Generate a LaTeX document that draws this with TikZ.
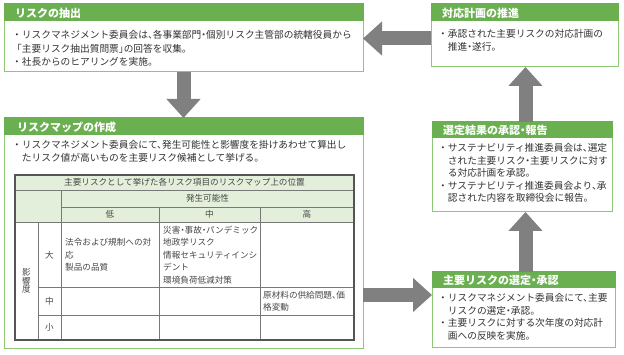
\documentclass[tikz,border=0pt]{standalone}
\usepackage{fontspec}
\setmainfont{Noto Sans CJK JP}[RawFeature=+halt]
\newfontfamily\fwfont{Noto Sans CJK JP}
\usetikzlibrary{calc,arrows.meta}
\definecolor{hdr}{RGB}{106,176,80}
\definecolor{bord}{RGB}{140,200,118}
\definecolor{agray}{RGB}{128,128,128}
\definecolor{thead}{RGB}{227,239,218}
\definecolor{tline}{RGB}{120,120,120}
\definecolor{tborder}{RGB}{85,85,85}
\definecolor{txt}{RGB}{50,50,50}
\definecolor{ttxt}{RGB}{70,70,70}
\newcommand\bodyf{\fontsize{9.7}{12}\selectfont}
\newcommand\hdrf{\fontsize{11}{13}\selectfont\bfseries}
\newcommand\tblf{\fontsize{8.6}{11}\selectfont}
\newcommand\bl{{\fwfont ・}}
\newcommand\ci{\hspace*{1em}}
\begin{document}
\begin{tikzpicture}[x=1pt,y=-1pt,
  box/.style={draw=bord, line width=1pt, fill=white, anchor=north west, inner sep=0pt, outer sep=0pt},
  hdrfill/.style={fill=hdr},
  bt/.style={anchor=west, inner sep=0pt, font=\bodyf, text=txt, text height=8pt, text depth=0.6pt},
  ht/.style={anchor=west, inner sep=0pt, font=\hdrf, text=white, text height=9pt, text depth=0.7pt},
  tt/.style={anchor=west, inner sep=0pt, font=\tblf, text=ttxt, text height=7.1pt, text depth=0.5pt},
  tc/.style={tt, anchor=center},
  bigarrow/.style={draw=agray, line width=14pt, -{Triangle[width=33pt,length=19pt]}},
  tgrid/.style={draw=tline, line width=0.9pt}]
\useasboundingbox (0,0) rectangle (624,355);
\fill[white] (0,0) rectangle (624,355);

% boxes
\node[box, minimum width=359pt, minimum height=68pt] (b1) at (4,4) {};
\fill[hdrfill] ($(b1.north west)+(-0.5,-0.5)$) rectangle ($(b1.north east)+(0.5,17)$);
\node[box, minimum width=187pt, minimum height=63pt] (b2) at (431,4) {};
\fill[hdrfill] ($(b2.north west)+(-0.5,-0.5)$) rectangle ($(b2.north east)+(0.5,17)$);
\node[box, minimum width=359pt, minimum height=231pt] (b3) at (4,118) {};
\fill[hdrfill] ($(b3.north west)+(-0.5,-0.5)$) rectangle ($(b3.north east)+(0.5,17)$);
\node[box, minimum width=180pt, minimum height=90pt] (b5) at (432,122) {};
\fill[hdrfill] ($(b5.north west)+(-0.5,-0.5)$) rectangle ($(b5.north east)+(0.5,16)$);
\node[box, minimum width=183pt, minimum height=76pt] (b4) at (432,272) {};
\fill[hdrfill] ($(b4.north west)+(-0.5,-0.5)$) rectangle ($(b4.north east)+(0.5,16)$);

% arrows
\coordinate (yL) at (0,38.5);
\coordinate (yR) at (0,295);
\coordinate (xR) at (525.5,0);
\draw[bigarrow] (b2.west |- yL) -- (b1.east |- yL);
\draw[bigarrow] (b1.south) -- (b3.north);
\draw[bigarrow] (b3.east |- yR) -- (b4.west |- yR);
\draw[bigarrow] (xR |- b4.north) -- (xR |- b5.south);
\draw[bigarrow] (xR |- b5.north) -- (xR |- b2.south);

% box 1
\node[ht] (h1) at (15,13.5) {リスクの抽出};
\node[bt] (t11) at (12,35) {\bl リスクマネジメント委員会は、各事業部門・個別リスク主管部の統轄役員から};
\node[bt] (t12) at (12,48.5) {{\fwfont 「}主要リスク抽出質問票」の回答を収集。};
\node[bt] (t13) at (12,62) {\bl 社長からのヒアリングを実施。};

% box 2
\node[ht] (h2) at (442,13) {対応計画の推進};
\node[bt] (t21) at (438,34) {\bl 承認された主要リスクの対応計画の};
\node[bt] (t22) at (438,47) {\ci 推進・遂行。};

% box 3
\node[ht] (h3) at (17,127.5) {リスクマップの作成};
\node[bt] (t31) at (12,145) {\bl リスクマネジメント委員会にて、発生可能性と影響度を掛けあわせて算出し};
\node[bt] (t32) at (12,157.5) {\ci たリスク値が高いものを主要リスク候補として挙げる。};

% box 5
\node[ht] (h5) at (443,130) {選定結果の承認・報告};
\node[bt] (t51) at (438,148) {\bl サステナビリティ推進委員会は、選定};
\node[bt] (t52) at (438,160.5) {\ci された主要リスク・主要リスクに対す};
\node[bt] (t53) at (438,173) {\ci る対応計画を承認。};
\node[bt] (t54) at (438,185.5) {\bl サステナビリティ推進委員会より、承};
\node[bt] (t55) at (438,198) {\ci 認された内容を取締役会に報告。};

% box 4
\node[ht] (h4) at (443,280) {主要リスクの選定・承認};
\node[bt] (t41) at (438,298) {\bl リスクマネジメント委員会にて、主要};
\node[bt] (t42) at (438,310.5) {\ci リスクの選定・承認。};
\node[bt] (t43) at (438,323) {\bl 主要リスクに対する次年度の対応計};
\node[bt] (t44) at (438,335.5) {\ci 画への反映を実施。};

% table
\fill[thead] (15,175) rectangle (354,222);
\draw[tgrid] (15,190) -- (354,190);
\draw[tgrid] (61,207) -- (354,207);
\draw[tgrid] (15,222) -- (354,222);
\draw[tgrid] (38,287) -- (354,287);
\draw[tgrid] (38,315) -- (354,315);
\draw[tgrid] (61,190) -- (61,340);
\draw[tgrid] (38,222) -- (38,340);
\draw[tgrid] (159,207) -- (159,340);
\draw[tgrid] (260,207) -- (260,340);
\draw[draw=tborder, line width=1.5pt] (15,175) rectangle (354,340);

\node[tc] (c0) at (184.5,182.5) {主要リスクとして挙げた各リスク項目のリスクマップ上の位置};
\node[tc] (c1) at (207.5,198.5) {発生可能性};
\node[tc] (cl) at (110,214.5) {低};
\node[tc] (cm) at (209.5,214.5) {中};
\node[tc] (ch) at (307,214.5) {高};
\node[tc] (rL) at (49.5,255) {大};
\node[tc] (rM) at (49.5,301) {中};
\node[tc] (rS) at (49.5,327.5) {小};
\node[tc] (e1) at (26.5,272.5) {影};
\node[tc] (e2) at (26.5,281) {響};
\node[tc] (e3) at (26.5,289.5) {度};

\node[tt] (a1) at (65,242.5) {法令および規制への対};
\node[tt] (a2) at (65,255) {応};
\node[tt] (a3) at (65,267.5) {製品の品質};
\node[tt] (m1) at (163,230) {災害・事故・パンデミック};
\node[tt] (m2) at (163,242.5) {地政学リスク};
\node[tt] (m3) at (163,255) {情報セキュリティインシ};
\node[tt] (m4) at (163,267.5) {デント};
\node[tt] (m5) at (163,280) {環境負荷低減対策};
\node[tt] (g1) at (263,295) {原材料の供給問題、価};
\node[tt] (g2) at (263,307.5) {格変動};
\end{tikzpicture}
\end{document}
